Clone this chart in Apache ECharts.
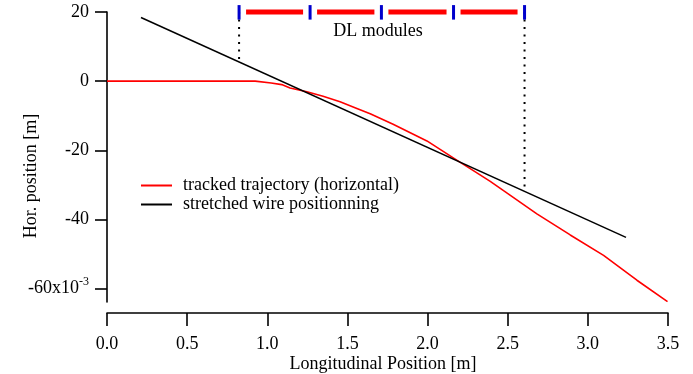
<!DOCTYPE html>
<html>
<head>
<meta charset="utf-8">
<script src="https://cdn.jsdelivr.net/npm/echarts@6/dist/echarts.min.js"></script>
<style>
html,body{margin:0;padding:0;background:#fff;}
#c{width:693px;height:374px;}
</style>
</head>
<body>
<div id="c"></div>
<script>
// ---- data ----
const redX = [0, 0.924, 0.924, 1.024, 1.024, 1.09, 1.142, 1.247, 1.348, 1.454, 1.559, 1.642, 1.785, 1.996, 2.204, 2.266, 2.391, 2.474, 2.682, 2.890, 3.098, 3.306, 3.497];
const redY = [0, 0, -0.52, -0.52, -1.0, -1.0, -1.96, -3.1, -4.37, -5.99, -7.91, -9.44, -12.5, -17.3, -23.5, -25.3, -29.0, -31.7, -38.4, -44.5, -50.4, -57.6, -63.8];
const wireX = [0.212, 3.238];
const wireY = [18.4, -45.2];
const moduleEdges = [0.824, 1.267, 1.712, 2.162, 2.605];
const moduleLevel = 20;
const markerTop = 22.0;
const markerBottom = 17.8;
const dottedX = [0.824, 2.605];
const dottedEnd = [5.5, -32.0];
const xTicks = [0, 0.5, 1.0, 1.5, 2.0, 2.5, 3.0, 3.5];
const yTicks = [-60, -40, -20, 0, 20];
const seriesNames = ['tracked trajectory (horizontal)', 'stretched wire positionning'];

const FONT = 'Liberation Serif';
const FS = 18;
const redData = redX.map((x, i) => [x, redY[i]]);
const wireData = wireX.map((x, i) => [x, wireY[i]]);
const moduleData = [];
for (let i = 0; i < moduleEdges.length - 1; i++) moduleData.push([moduleEdges[i], moduleEdges[i + 1]]);
const dottedData = dottedX.map((x, i) => [x, dottedEnd[i]]);

const chart = echarts.init(document.getElementById('c'), null, {renderer: 'canvas'});
chart.setOption({
  animation: false,
  backgroundColor: '#fff',
  textStyle: {fontFamily: FONT},
  grid: {left: 107, right: 25, top: 12, bottom: 72, outerBoundsMode: 'none', containLabel: false},
  xAxis: {
    type: 'value', min: 0, max: 3.5, interval: 0.5, offset: 11,
    axisLine: {show: true, onZero: false, lineStyle: {color: '#000', width: 1.6}},
    axisTick: {show: true, length: 13, lineStyle: {color: '#000', width: 1.6}},
    axisLabel: {margin: 22, fontFamily: FONT, fontSize: FS, color: '#000', formatter: v => v.toFixed(1)},
    splitLine: {show: false}
  },
  yAxis: {
    type: 'value', min: -63.9, max: 20,
    axisLine: {show: true, onZero: false, lineStyle: {color: '#000', width: 1.6}},
    axisTick: {show: true, length: 12, customValues: yTicks, lineStyle: {color: '#000', width: 1.6}},
    axisLabel: {
      margin: 18, fontFamily: FONT, fontSize: FS, color: '#000', customValues: yTicks,
      formatter: v => v === -60 ? '{a|-60x10}{s|-3}' : String(v),
      rich: {
        a: {fontFamily: FONT, fontSize: FS, color: '#000'},
        s: {fontFamily: FONT, fontSize: 12, color: '#000', verticalAlign: 'top', padding: [0, 0, 14, 0]}
      }
    },
    splitLine: {show: false}
  },
  legend: {
    show: true, orient: 'vertical', left: 136, top: 171,
    itemWidth: 31, itemHeight: 2, itemGap: 0, icon: 'rect',
    data: seriesNames,
    textStyle: {fontFamily: FONT, fontSize: FS, color: '#000', lineHeight: 19, padding: [0, 0, 0, 6]}
  },
  graphic: [
    {type: 'text', x: 378, y: 31, style: {text: 'DL modules', fontFamily: FONT, fontSize: FS, fill: '#000', align: 'center', verticalAlign: 'middle'}},
    {type: 'text', x: 31, y: 176, rotation: Math.PI / 2, style: {text: 'Hor. position [m]', fontFamily: FONT, fontSize: FS, fill: '#000', align: 'center', verticalAlign: 'middle'}},
    {type: 'text', x: 383, y: 364, style: {text: 'Longitudinal Position [m]', fontFamily: FONT, fontSize: FS, fill: '#000', align: 'center', verticalAlign: 'middle'}}
  ],
  series: [
    {
      type: 'custom', name: 'dotted', clip: false, z: 1, silent: true,
      data: dottedData,
      renderItem: (params, api) => {
        const p1 = api.coord([api.value(0), moduleLevel]);
        const p2 = api.coord([api.value(0), api.value(1)]);
        return {type: 'line', shape: {x1: p1[0], y1: p1[1], x2: p2[0], y2: p2[1]},
          style: {stroke: '#000', lineWidth: 2, lineDash: [2, 5.5]}};
      }
    },
    {
      type: 'custom', name: 'bars', clip: false, z: 3, silent: true,
      data: moduleData,
      renderItem: (params, api) => {
        const p1 = api.coord([api.value(0), moduleLevel]);
        const p2 = api.coord([api.value(1), moduleLevel]);
        return {type: 'line', shape: {x1: p1[0] + 7, y1: p1[1], x2: p2[0] - 7, y2: p2[1]},
          style: {stroke: '#ff0000', lineWidth: 5}};
      }
    },
    {
      type: 'custom', name: 'markers', clip: false, z: 4, silent: true,
      data: moduleEdges.map(x => [x]),
      renderItem: (params, api) => {
        const t = api.coord([api.value(0), markerTop]);
        const b = api.coord([api.value(0), markerBottom]);
        return {type: 'rect', shape: {x: t[0] - 1.5, y: t[1], width: 3, height: b[1] - t[1]},
          style: {fill: '#0000cc'}};
      }
    },
    {
      type: 'line', name: seriesNames[0], data: redData, symbol: 'none', z: 5,
      lineStyle: {color: '#ff0000', width: 1.6}, itemStyle: {color: '#ff0000'}
    },
    {
      type: 'line', name: seriesNames[1], data: wireData, symbol: 'none', z: 6,
      lineStyle: {color: '#000', width: 1.5}, itemStyle: {color: '#000'}
    }
  ]
});
</script>
</body>
</html>
